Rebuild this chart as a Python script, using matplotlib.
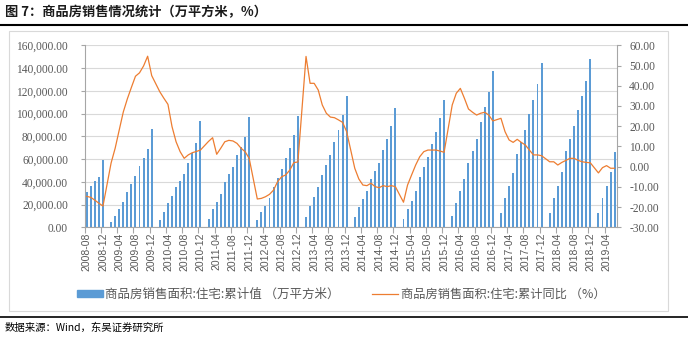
import numpy as np
import pandas as pd
import matplotlib
matplotlib.use("Agg")
import matplotlib.pyplot as plt
from matplotlib.lines import Line2D
from matplotlib.patches import Rectangle
from matplotlib.ticker import FuncFormatter, MultipleLocator

plt.rcParams['font.family'] = ['Noto Sans CJK SC', 'DejaVu Sans']

# monthly categories, 2008-08 .. 2019-06 (January is not published -> nan)
months = pd.period_range("2008-08", "2019-06", freq="M").strftime("%Y-%m").tolist()
nan = np.nan

# 商品房销售面积:住宅:累计值 (万平方米)
area_2008 = [31300, 36300, 40700, 44200, 59200]
area_2009 = [nan, 4700, 9900, 16100, 22200, 31000, 38000, 45100, 53900, 60900, 68800, 86400]
area_2010 = [nan, 6400, 13400, 21400, 27500, 35400, 40700, 46900, 56500, 65300, 74100, 93400]
area_2011 = [nan, 7300, 16100, 22200, 29300, 39800, 46900, 53000, 63600, 70600, 79400, 97000]
area_2012 = [nan, 6400, 13400, 18700, 25800, 35400, 43300, 51300, 60900, 69700, 81100, 97800]
area_2013 = [nan, 9100, 18700, 26600, 35400, 46000, 54800, 63600, 75000, 85500, 98700, 115400]
area_2014 = [nan, 9100, 17800, 24900, 31900, 42500, 49500, 56500, 68000, 77600, 89100, 104900]
area_2015 = [nan, 7300, 16100, 23100, 31900, 44200, 53000, 61800, 73200, 83800, 96100, 111900]
area_2016 = [nan, 9900, 21400, 31900, 42500, 56500, 67100, 77600, 92600, 105800, 118900, 137400]
area_2017 = [nan, 12600, 25800, 36300, 47700, 64400, 75000, 85500, 99600, 111900, 126000, 144400]
area_2018 = [nan, 12600, 25800, 36300, 48600, 67100, 77600, 89100, 103100, 115400, 128600, 148000]
area_2019 = [nan, 12300, 25800, 36300, 48600, 66200]

# 商品房销售面积:住宅:累计同比 (%)
yoy_2008 = [-14.7, -15.2, -16.6, -18.1, -19.5]
yoy_2009 = [nan, 1.8, 9.1, 18.1, 27.0, 33.5, 39.2, 44.7, 46.4, 49.8, 54.6, 45.0]
yoy_2010 = [nan, 37.0, 33.8, 30.8, 19.8, 12.3, 7.4, 4.1, 5.8, 6.9, 7.5, 8.2]
yoy_2011 = [nan, 12.5, 14.3, 6.1, 9.1, 12.3, 13.0, 12.7, 11.5, 9.1, 7.4, 4.1]
yoy_2012 = [nan, -16.0, -15.7, -14.9, -13.7, -11.6, -7.4, -5.0, -4.1, -1.7, 2.0, 2.3]
yoy_2013 = [nan, 54.5, 41.2, 41.2, 37.9, 30.5, 26.4, 24.5, 24.2, 23.1, 21.9, 17.3]
yoy_2014 = [nan, -0.8, -6.1, -9.1, -9.4, -8.2, -9.9, -10.4, -9.4, -9.9, -9.4, -9.9]
yoy_2015 = [nan, -17.6, -9.1, -4.1, 0.8, 4.9, 7.4, 8.2, 8.2, 8.2, 7.7, 7.1]
yoy_2016 = [nan, 30.5, 36.3, 38.7, 33.8, 28.5, 26.9, 25.5, 26.4, 26.9, 25.5, 22.6]
yoy_2017 = [nan, 23.9, 17.3, 13.2, 12.0, 13.5, 12.0, 10.7, 8.2, 5.8, 5.8, 5.4]
yoy_2018 = [nan, 2.4, 2.4, 0.8, 2.1, 3.1, 4.1, 4.1, 3.1, 2.4, 2.1, 1.9]
yoy_2019 = [nan, -3.1, -0.5, 0.5, -0.8, -0.8]

area = (area_2008 + area_2009 + area_2010 + area_2011 + area_2012 + area_2013
        + area_2014 + area_2015 + area_2016 + area_2017 + area_2018 + area_2019)
yoy = (yoy_2008 + yoy_2009 + yoy_2010 + yoy_2011 + yoy_2012 + yoy_2013
       + yoy_2014 + yoy_2015 + yoy_2016 + yoy_2017 + yoy_2018 + yoy_2019)

title = "图 7：商品房销售情况统计（万平方米，%）"
bar_label = "商品房销售面积:住宅:累计值 （万平方米）"
line_label = "商品房销售面积:住宅:累计同比 （%）"
source = "数据来源：Wind，东吴证券研究所"

W, H = 688, 340
fig = plt.figure(figsize=(W / 100, H / 100), dpi=100)


def fx(px):
    return px / W


def fy(py):
    return 1 - py / H


grey = '#595959'
axis_grey = '#A6A6A6'

ax = fig.add_axes([fx(84.7), fy(227.3), fx(616.7) - fx(84.7), fy(45.3) - fy(227.3)])
ax2 = ax.twinx()

x = np.arange(len(months))
ax.bar(x, area, width=0.48, color='#5B9BD5', zorder=2)
ax.set_xlim(-0.5, len(months) - 0.5)
ax.set_ylim(0, 160000)
ax.yaxis.set_major_locator(MultipleLocator(20000))
ax.yaxis.set_major_formatter(FuncFormatter(lambda v, p: f"{v:,.2f}"))
ax.grid(axis='y', color='#D9D9D9', lw=0.8, zorder=0)
ax.set_axisbelow(True)

yoy_arr = np.array(yoy, dtype=float)
ok = ~np.isnan(yoy_arr)
ax2.plot(x[ok], yoy_arr[ok], color='#ED7D31', lw=0.9, zorder=3)
ax2.set_ylim(-30, 60)
ax2.yaxis.set_major_locator(MultipleLocator(10))
ax2.yaxis.set_major_formatter(FuncFormatter(lambda v, p: f"{v:.2f}"))

# x ticks: labels every 4 months, tick marks at category boundaries
ax.set_xticks(x[::4])
ax.set_xticklabels(months[::4], rotation=90, fontsize=7.5, color=grey,
                   fontfamily='Liberation Sans')
ax.set_xticks(np.arange(-0.5, len(months), 4), minor=True)
ax.tick_params(axis='x', which='major', length=0, pad=4)
ax.tick_params(axis='x', which='minor', length=4, color=axis_grey, width=0.8)

ax.tick_params(axis='y', length=3, color=axis_grey, width=0.8, pad=9,
               labelsize=8.3, labelcolor=grey, labelfontfamily='Liberation Serif')
ax2.tick_params(axis='y', length=3, color=axis_grey, width=0.8, pad=6,
                labelsize=8.3, labelcolor=grey, labelfontfamily='Liberation Serif')

for s in ['top', 'right']:
    ax.spines[s].set_visible(False)
for s in ['left', 'bottom']:
    ax.spines[s].set_color(axis_grey)
    ax.spines[s].set_linewidth(0.8)
for s in ['top', 'left', 'bottom']:
    ax2.spines[s].set_visible(False)
ax2.spines['right'].set_color(axis_grey)
ax2.spines['right'].set_linewidth(0.8)

# chart frame
fig.add_artist(Rectangle((fx(9), fy(311)), fx(668) - fx(9), fy(31) - fy(311),
                         transform=fig.transFigure, fill=False, edgecolor='#D9D9D9', lw=0.8))

# legend
fig.add_artist(Rectangle((fx(77), fy(297)), fx(103) - fx(77), fy(290) - fy(297),
                         transform=fig.transFigure, color='#5B9BD5'))
fig.text(fx(105), fy(294), bar_label, fontsize=9, color=grey, va='center')
fig.add_artist(Line2D([fx(372), fx(398)], [fy(294), fy(294)], color='#ED7D31', lw=0.9))
fig.text(fx(401), fy(294), line_label, fontsize=8.8, color=grey, va='center')

# title, rules and source
fig.text(fx(5), fy(12), title, fontsize=9.5, fontweight='bold', color='#1a1a1a', va='center')
fig.add_artist(Line2D([0, 1], [fy(24.5), fy(24.5)], color='black', lw=1.5))
fig.add_artist(Line2D([0, 1], [fy(316.5), fy(316.5)], color='black', lw=1.2))
fig.text(fx(5), fy(328), source, fontsize=7.5, color='black', va='center')

fig.savefig("out.png", dpi=100)
